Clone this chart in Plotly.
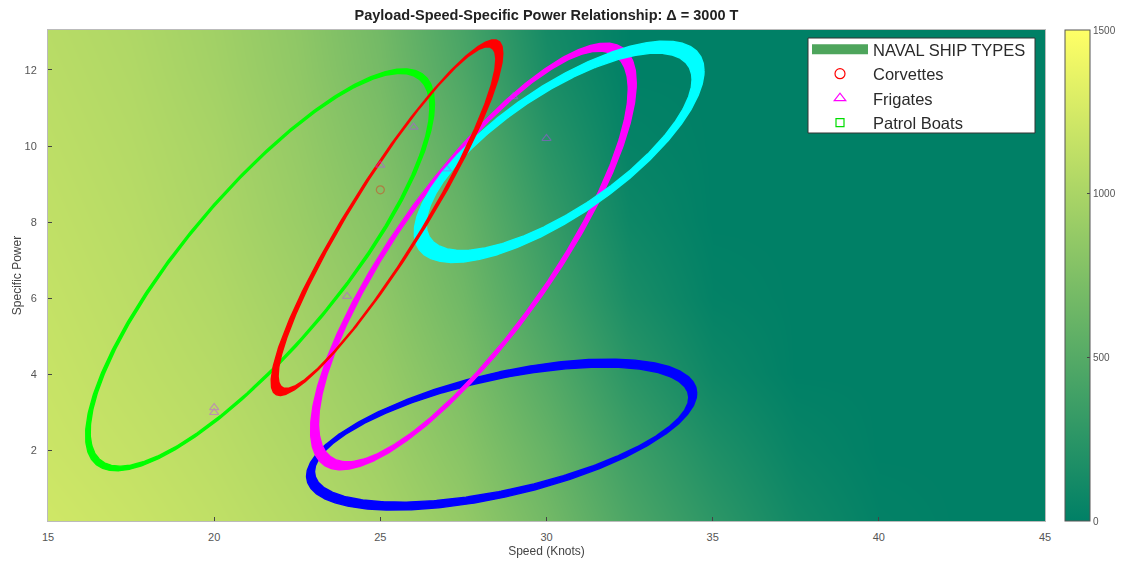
import numpy as np
import plotly.graph_objects as go

# ---------------- data ----------------
# background field (payload), read from the colour map
speed_grid = [15, 17.5, 20, 22.5, 25, 27.5, 30, 32.5, 35, 37.5, 40, 42.5, 45]
power_grid = [0, 2, 4, 6, 8, 10, 12, 14]
payload = [
    [1220, 1180, 1130, 1070, 990, 870, 680, 450, 270, 110, 20, 0, 0],   # SP=0
    [1190, 1150, 1100, 1030, 940, 800, 600, 360, 180, 50, 0, 0, 0],     # SP=2
    [1170, 1120, 1070, 990, 890, 730, 500, 250, 80, 0, 0, 0, 0],        # SP=4
    [1150, 1100, 1040, 950, 840, 660, 400, 150, 20, 0, 0, 0, 0],        # SP=6
    [1130, 1080, 1010, 910, 790, 600, 320, 80, 0, 0, 0, 0, 0],          # SP=8
    [1110, 1060, 990, 880, 740, 530, 240, 30, 0, 0, 0, 0, 0],           # SP=10
    [1090, 1040, 960, 850, 690, 450, 150, 0, 0, 0, 0, 0, 0],            # SP=12
    [1070, 1020, 940, 830, 660, 400, 100, 0, 0, 0, 0, 0, 0],            # SP=14
]

# ship type regions (ellipses): centre, half-extent, phase (tilt), ring half-thickness px
# listed in drawing order (bottom to top)
ell_names = ["blue", "green", "magenta", "cyan", "red"]
ell_colors = ["#0000ff", "#00ff00", "#ff00ff", "#00ffff", "#ff0000"]
ell_cx = [28.65, 21.38, 27.8, 30.38, 25.2]
ell_cy = [2.42, 6.75, 7.1, 9.85, 8.12]
ell_rx = [5.75, 5.18, 4.78, 4.18, 3.38]
ell_ry = [1.88, 5.22, 5.5, 2.75, 4.58]
ell_phase = [0.58, 0.97, 0.95, 0.82, 1.18]
ell_thick = [4.0, 2.3, 4.0, 6.0, 3.5]

# ship data points
corv_speed = [25]
corv_power = [8.85]
frig_speed = [20, 20, 24, 25, 26, 27, 29, 30]
frig_power = [3.13, 3.0, 6.05, 9.5, 10.5, 9.4, 11.3, 10.2]

# axes
x_range = [15, 45]
y_range = [0.15, 13.05]
x_ticks = [15, 20, 25, 30, 35, 40, 45]
y_ticks = [2, 4, 6, 8, 10, 12]
cb_ticks = [0, 500, 1000, 1500]

# ---------------- figure ----------------
W, H = 1133, 565
ML, MR, MT, MB = 48, 88, 30, 44
pw, ph = W - ML - MR, H - MT - MB
px_x = pw / (x_range[1] - x_range[0])
px_y = ph / (y_range[1] - y_range[0])

summer = [[0, "rgb(0,128,102)"], [1, "rgb(255,255,102)"]]
FONT = "Liberation Sans, Arial, sans-serif"

fig = go.Figure()
fig.add_trace(go.Heatmap(
    x=speed_grid, y=power_grid, z=payload, zmin=0, zmax=1500,
    colorscale=summer, zsmooth="best", showscale=True, showlegend=False,
    hoverinfo="skip",
    colorbar=dict(x=(1065 - ML) / pw, xanchor="left", y=0.5, len=1, lenmode="fraction",
                  thickness=25, tickvals=cb_ticks, ticks="inside", ticklen=3,
                  outlinewidth=1, outlinecolor="#555", tickfont=dict(size=10, color="#555"),
                  xpad=0, ypad=0),
))

t = np.linspace(0, 2 * np.pi, 500)
for i in range(len(ell_names)):
    hx = ell_thick[i] / px_x
    hy = ell_thick[i] / px_y
    xo = ell_cx[i] + (ell_rx[i] + hx) * np.cos(t)
    yo = ell_cy[i] + (ell_ry[i] + hy) * np.sin(t + ell_phase[i])
    xi = ell_cx[i] + (ell_rx[i] - hx) * np.cos(t[::-1])
    yi = ell_cy[i] + (ell_ry[i] - hy) * np.sin(t[::-1] + ell_phase[i])
    fig.add_trace(go.Scatter(
        x=np.concatenate([xo, xi, xo[:1]]), y=np.concatenate([yo, yi, yo[:1]]),
        mode="lines", fill="toself", fillcolor=ell_colors[i],
        line=dict(width=1.4, color=ell_colors[i]), showlegend=False, hoverinfo="skip",
    ))

# faded data markers
fig.add_trace(go.Scatter(x=corv_speed, y=corv_power, mode="markers", showlegend=False,
                         marker=dict(symbol="circle-open", size=8, color="red", line=dict(width=1.2)),
                         opacity=0.35))
fig.add_trace(go.Scatter(x=frig_speed, y=frig_power, mode="markers", showlegend=False,
                         marker=dict(symbol="triangle-up-open", size=8, color="#c040ff", line=dict(width=1.2)),
                         opacity=0.45))

# legend entries
fig.add_trace(go.Scatter(x=[None], y=[None], mode="lines", name="NAVAL SHIP TYPES",
                         line=dict(color="#4ea55c", width=15)))
fig.add_trace(go.Scatter(x=[None], y=[None], mode="markers", name="Corvettes",
                         marker=dict(symbol="circle-open", size=10, color="red", line=dict(width=1.2))))
fig.add_trace(go.Scatter(x=[None], y=[None], mode="markers", name="Frigates",
                         marker=dict(symbol="triangle-up-open", size=10, color="magenta", line=dict(width=1.2))))
fig.add_trace(go.Scatter(x=[None], y=[None], mode="markers", name="Patrol Boats",
                         marker=dict(symbol="square-open", size=8, color="#00dd00", line=dict(width=1.2))))

# legend frame
fig.add_shape(type="rect", xref="paper", yref="paper",
              x0=(808 - ML) / pw, x1=(1035 - ML) / pw,
              y0=1 - (133 - MT) / ph, y1=1 - (38 - MT) / ph,
              fillcolor="white", line=dict(color="#333", width=1), layer="above")

fig.update_layout(
    width=W, height=H, margin=dict(l=ML, r=MR, t=MT, b=MB),
    paper_bgcolor="white", plot_bgcolor="white",
    font=dict(family=FONT, size=11, color="#444"),
    title=dict(text="<b>Payload-Speed-Specific Power Relationship: Δ = 3000 T</b>",
               x=0.5, xref="paper", xanchor="center", y=1 - 15 / H, yanchor="middle",
               font=dict(size=14.5, color="#222")),
    xaxis=dict(range=x_range, tickvals=x_ticks, ticks="inside", ticklen=4, tickcolor="#444",
               showgrid=False, zeroline=False, showline=True, linecolor="#bbb", mirror=True,
               ticklabelstandoff=6, automargin=False,
               title=dict(text="Speed (Knots)", standoff=4, font=dict(size=12, color="#444")),
               tickfont=dict(size=11, color="#555")),
    yaxis=dict(range=y_range, tickvals=y_ticks, ticks="inside", ticklen=4, tickcolor="#444",
               showgrid=False, zeroline=False, showline=True, linecolor="#bbb", mirror=True,
               ticklabelstandoff=8, automargin=False,
               title=dict(text="Specific Power", standoff=0, font=dict(size=12, color="#444")),
               tickfont=dict(size=11, color="#555")),
    legend=dict(x=(807 - ML) / pw, y=1 - (32 - MT) / ph, xanchor="left", yanchor="top",
                bgcolor="rgba(0,0,0,0)", borderwidth=0,
                font=dict(size=16.5, color="#2a2a2a"), tracegroupgap=0, itemwidth=56),
)

fig.write_html("out.html")
